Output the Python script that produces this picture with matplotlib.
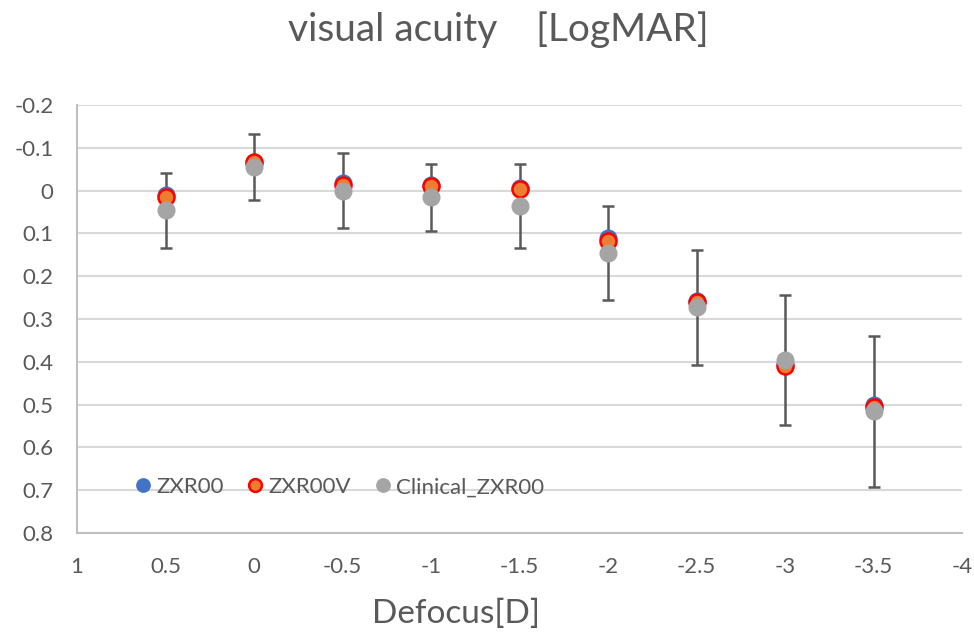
import numpy as np
import matplotlib
matplotlib.use('Agg')
import matplotlib.pyplot as plt

plt.rcParams['font.family'] = ['Lato', 'DejaVu Sans']

# data
defocus       = [0.5, 0, -0.5, -1, -1.5, -2, -2.5, -3, -3.5]
zxr00         = [0.010, -0.065, -0.018, -0.014, -0.005, 0.111, 0.258, 0.406, 0.502]
zxr00v        = [0.015, -0.066, -0.013, -0.010, -0.004, 0.117, 0.261, 0.409, 0.506]
clinical      = [0.046, -0.055, 0.000, 0.016, 0.036, 0.146, 0.273, 0.396, 0.516]
clinical_err  = [0.087, 0.078, 0.087, 0.079, 0.098, 0.110, 0.135, 0.151, 0.176]
xticks        = [1, 0.5, 0, -0.5, -1, -1.5, -2, -2.5, -3, -3.5, -4]
yticks        = [-0.2, -0.1, 0, 0.1, 0.2, 0.3, 0.4, 0.5, 0.6, 0.7, 0.8]

fig = plt.figure(figsize=(9.74, 6.37), dpi=100)
ax = fig.add_axes([77/974, 1-533/637, 885/974, 428/637])

txt = '#595959'
ax.errorbar(defocus, clinical, yerr=clinical_err, fmt='none', ecolor='#595959',
            elinewidth=1.8, capsize=4.5, capthick=1.8, zorder=2)
ax.plot(defocus, zxr00, 'o', ms=12, color='#4472C4', mec='#4472C4', label='ZXR00', zorder=3)
ax.plot(defocus, zxr00v, 'o', ms=11.5, color='#ED7D31', mec='#FF0000', mew=1.8, label='ZXR00V', zorder=4)
ax.plot(defocus, clinical, 'o', ms=12, color='#A5A5A5', mec='#A5A5A5', label='Clinical_ZXR00', zorder=5)

ax.set_xlim(1, -4)
ax.set_ylim(0.8, -0.2)
ax.set_xticks(xticks)
ax.set_xticklabels([('%g' % v) for v in xticks])
ax.set_yticks(yticks)
ax.set_yticklabels([('%g' % v) for v in yticks])
ax.grid(axis='y', color='#d9d9d9', lw=1.5, zorder=0)
ax.set_axisbelow(True)
for s in ['top', 'right']:
    ax.spines[s].set_visible(False)
for s in ['left', 'bottom']:
    ax.spines[s].set_color('#bfbfbf')
    ax.spines[s].set_linewidth(1.5)
ax.tick_params(axis='both', length=0, labelsize=16, colors=txt)
ax.tick_params(axis='x', pad=17)
ax.tick_params(axis='y', pad=17)

fig.text(456/974, 1-614/637, 'Defocus[D]', fontsize=24, color=txt, ha='center', va='center')
fig.text(498/974, 1-30/637, 'visual acuity\u3000[LogMAR]', fontsize=28, color=txt,
         ha='center', va='center', family=['Lato', 'Noto Sans CJK JP', 'DejaVu Sans'])

leg = ax.legend(loc='center left', bbox_to_anchor=(0.045, 0.107), ncol=3, frameon=False,
                fontsize=16, handlelength=0.6, handletextpad=0.3, columnspacing=1.1,
                markerscale=0.8)
for t in leg.get_texts():
    t.set_color(txt)

fig.savefig('out.png', dpi=100)
